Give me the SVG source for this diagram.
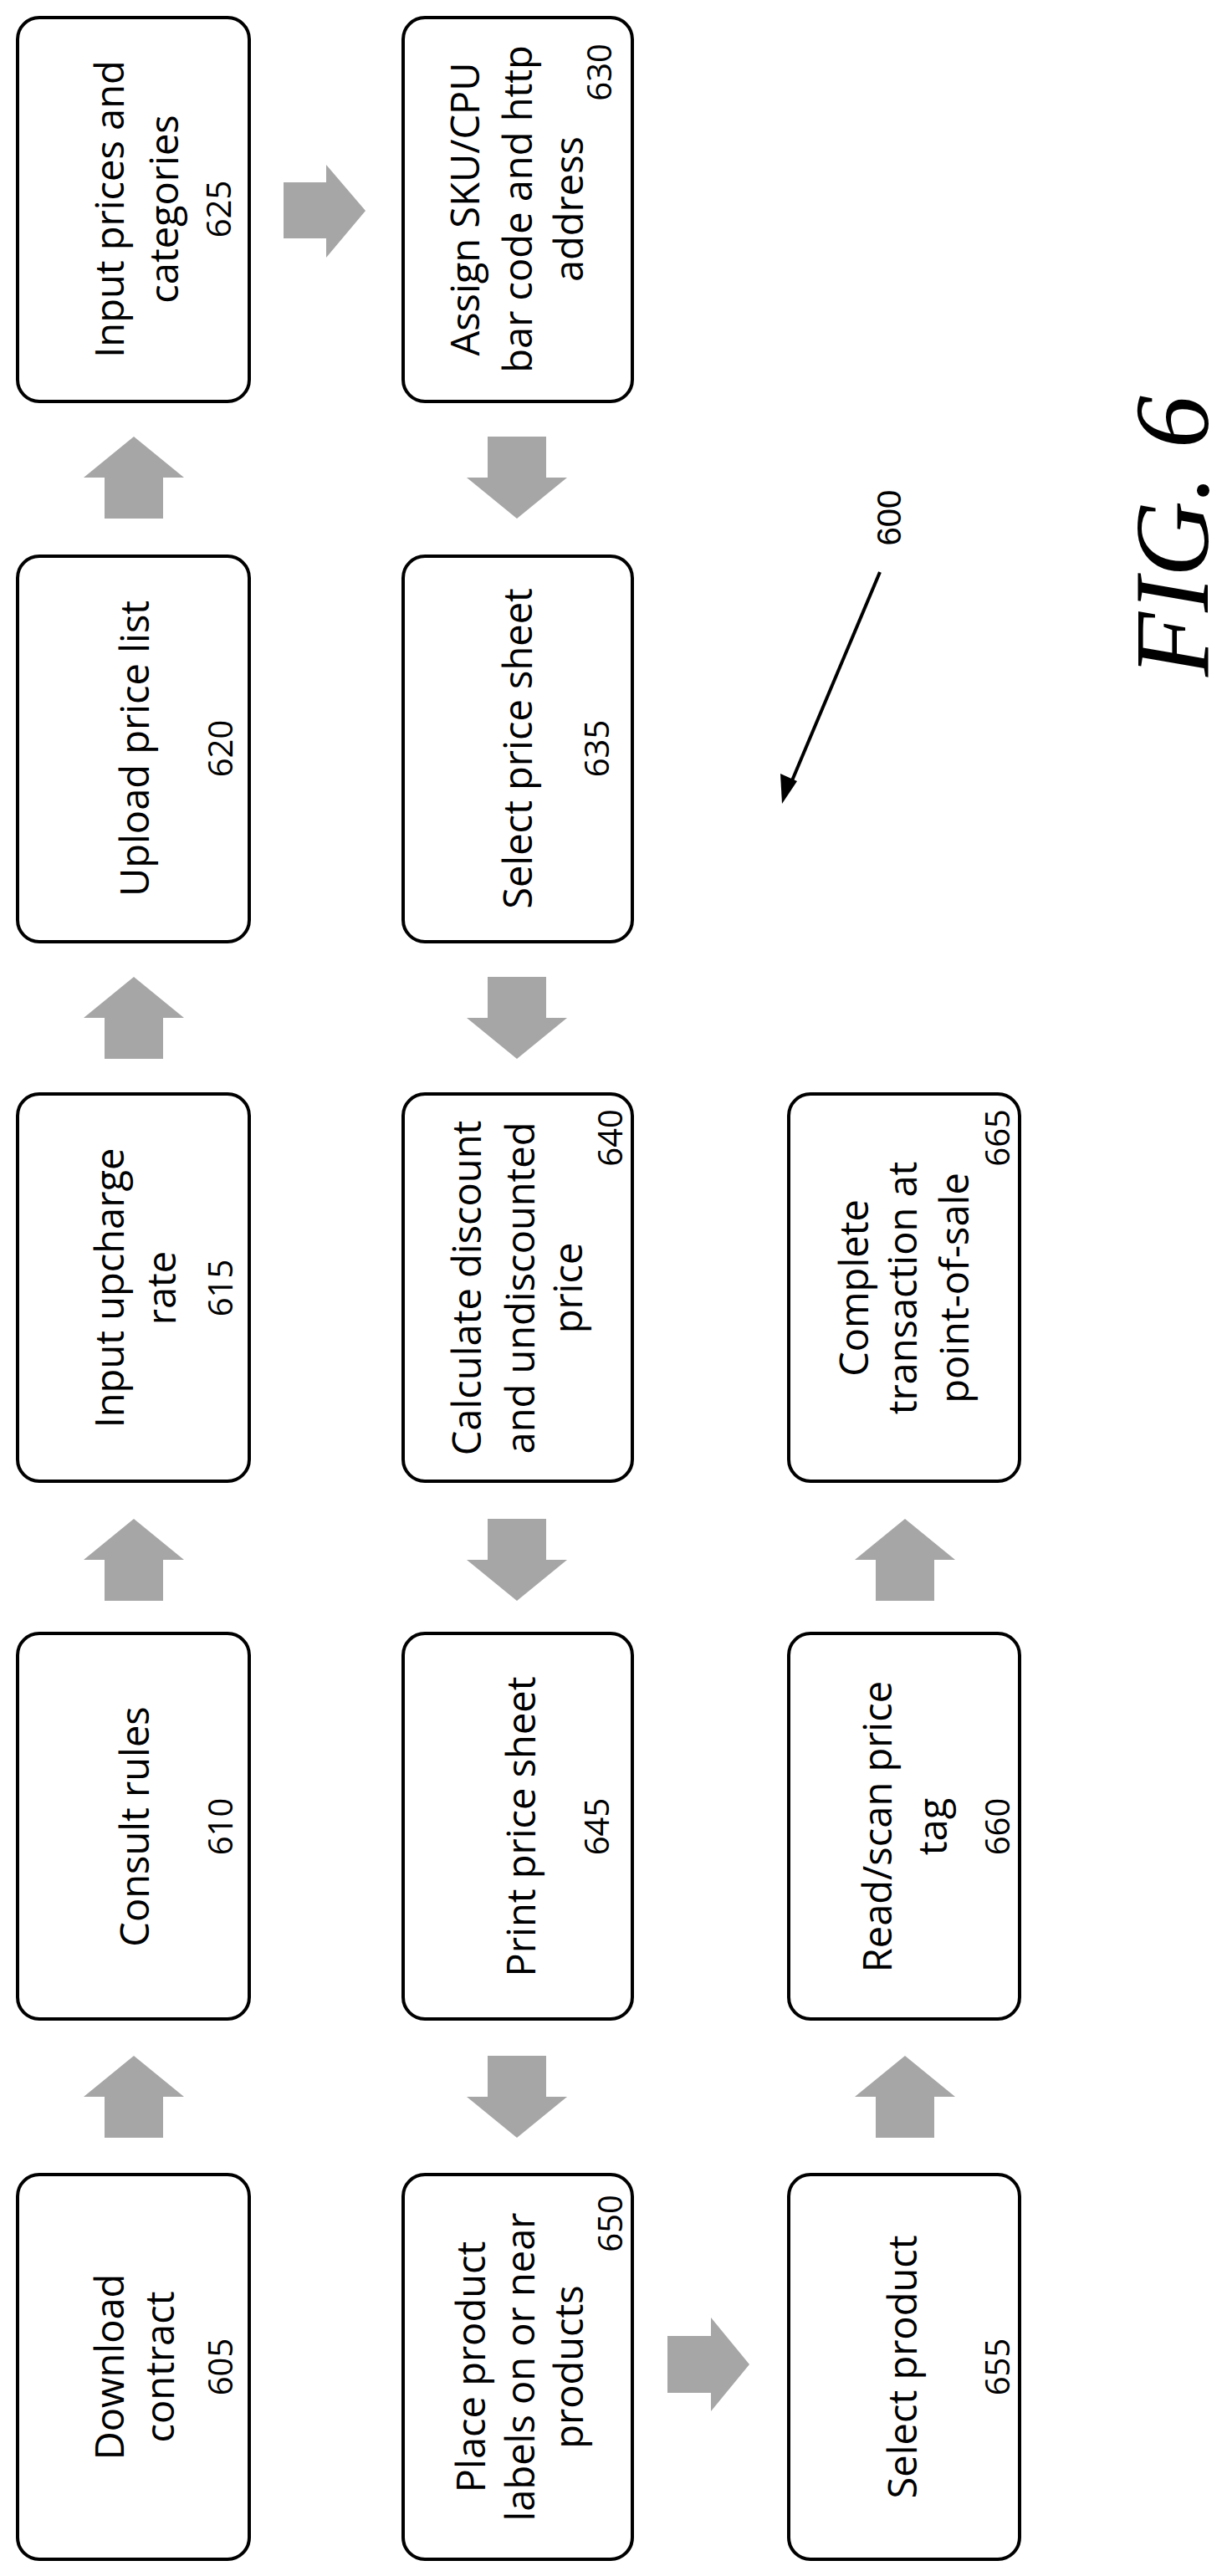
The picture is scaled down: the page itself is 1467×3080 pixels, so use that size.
<svg xmlns="http://www.w3.org/2000/svg" width="1467" height="3080" viewBox="0 0 1467 3080">
<style>
.box{fill:#fff;stroke:#000;stroke-width:4}
.t{font-family:"Open Sans",sans-serif;font-size:47px;fill:#000;text-anchor:middle}
.n{font-family:"Open Sans",sans-serif;font-size:40px;fill:#000;text-anchor:middle}
.ne{font-family:"Open Sans",sans-serif;font-size:40px;fill:#000;text-anchor:end}
.ar{fill:#a6a6a6}
</style>
<rect width="1467" height="3080" fill="#fff"/>
<g id="connectors">
<polygon class="ar" points="160,1816 220,1865 195,1865 195,1914 125,1914 125,1865 100,1865"/>
<polygon class="ar" points="160,2458 220,2507 195,2507 195,2556 125,2556 125,2507 100,2507"/>
<polygon class="ar" points="160,1168 220,1217 195,1217 195,1266 125,1266 125,1217 100,1217"/>
<polygon class="ar" points="160,522 220,571 195,571 195,620 125,620 125,571 100,571"/>
<polygon class="ar" points="339,218 390,218 390,197 437,252 390,308 390,285 339,285"/>
<polygon class="ar" points="618,620 678,571 653,571 653,522 583,522 583,571 558,571"/>
<polygon class="ar" points="618,1266 678,1217 653,1217 653,1168 583,1168 583,1217 558,1217"/>
<polygon class="ar" points="618,1914 678,1865 653,1865 653,1816 583,1816 583,1865 558,1865"/>
<polygon class="ar" points="618,2556 678,2507 653,2507 653,2458 583,2458 583,2507 558,2507"/>
<polygon class="ar" points="798,2793 850,2793 850,2771 896,2827 850,2883 850,2861 798,2861"/>
<polygon class="ar" points="1082,2458 1142,2507 1117,2507 1117,2556 1047,2556 1047,2507 1022,2507"/>
<polygon class="ar" points="1082,1816 1142,1865 1117,1865 1117,1914 1047,1914 1047,1865 1022,1865"/>
<line x1="1052" y1="684" x2="945" y2="938" stroke="#000" stroke-width="4"/>
<polygon points="935,961 933,925 953,934" fill="#000"/>
</g>
<g id="n605"><rect class="box" x="21" y="2600" width="277" height="460" rx="26"/>
<text class="t" transform="translate(148,2830) rotate(-90)">Download</text>
<text class="t" transform="translate(208,2830) rotate(-90)">contract</text>
<text class="n" transform="translate(278,2830) rotate(-90)">605</text></g>
<g id="n610"><rect class="box" x="21" y="1953" width="277" height="461" rx="26"/>
<text class="t" transform="translate(178,2184) rotate(-90)">Consult rules</text>
<text class="n" transform="translate(278,2184) rotate(-90)">610</text></g>
<g id="n615"><rect class="box" x="21" y="1308" width="277" height="463" rx="26"/>
<text class="t" transform="translate(148,1540) rotate(-90)">Input upcharge</text>
<text class="t" transform="translate(210,1540) rotate(-90)">rate</text>
<text class="n" transform="translate(278,1540) rotate(-90)">615</text></g>
<g id="n620"><rect class="box" x="21" y="665" width="277" height="461" rx="26"/>
<text class="t" transform="translate(178,895) rotate(-90)">Upload price list</text>
<text class="n" transform="translate(278,895) rotate(-90)">620</text></g>
<g id="n625"><rect class="box" x="21" y="21" width="277" height="459" rx="26"/>
<text class="t" transform="translate(148,250) rotate(-90)">Input prices and</text>
<text class="t" transform="translate(213,250) rotate(-90)">categories</text>
<text class="n" transform="translate(276,250) rotate(-90)">625</text></g>
<g id="n630"><rect class="box" x="482" y="21" width="274" height="459" rx="26"/>
<text class="t" transform="translate(573,250) rotate(-90)">Assign SKU/CPU</text>
<text class="t" transform="translate(636,250) rotate(-90)">bar code and http</text>
<text class="t" transform="translate(697,250) rotate(-90)">address</text>
<text class="ne" transform="translate(731,52) rotate(-90)">630</text></g>
<g id="n635"><rect class="box" x="482" y="665" width="274" height="461" rx="26"/>
<text class="t" transform="translate(636,895) rotate(-90)">Select price sheet</text>
<text class="n" transform="translate(728,895) rotate(-90)">635</text></g>
<g id="n640"><rect class="box" x="482" y="1308" width="274" height="463" rx="26"/>
<text class="t" transform="translate(575,1540) rotate(-90)">Calculate discount</text>
<text class="t" transform="translate(639,1540) rotate(-90)">and undiscounted</text>
<text class="t" transform="translate(696,1540) rotate(-90)">price</text>
<text class="ne" transform="translate(744,1326) rotate(-90)">640</text></g>
<g id="n645"><rect class="box" x="482" y="1953" width="274" height="461" rx="26"/>
<text class="t" transform="translate(640,2184) rotate(-90)">Print price sheet</text>
<text class="n" transform="translate(728,2184) rotate(-90)">645</text></g>
<g id="n650"><rect class="box" x="482" y="2600" width="274" height="460" rx="26"/>
<text class="t" transform="translate(580,2830) rotate(-90)">Place product</text>
<text class="t" transform="translate(639,2830) rotate(-90)">labels on or near</text>
<text class="t" transform="translate(697,2830) rotate(-90)">products</text>
<text class="ne" transform="translate(744,2624) rotate(-90)">650</text></g>
<g id="n655"><rect class="box" x="943" y="2600" width="276" height="460" rx="26"/>
<text class="t" transform="translate(1096,2830) rotate(-90)">Select product</text>
<text class="n" transform="translate(1207,2830) rotate(-90)">655</text></g>
<g id="n660"><rect class="box" x="943" y="1953" width="276" height="461" rx="26"/>
<text class="t" transform="translate(1066,2184) rotate(-90)">Read/scan price</text>
<text class="t" transform="translate(1132,2184) rotate(-90)">tag</text>
<text class="n" transform="translate(1207,2184) rotate(-90)">660</text></g>
<g id="n665"><rect class="box" x="943" y="1308" width="276" height="463" rx="26"/>
<text class="t" transform="translate(1038,1540) rotate(-90)">Complete</text>
<text class="t" transform="translate(1096,1540) rotate(-90)">transaction at</text>
<text class="t" transform="translate(1158,1540) rotate(-90)">point-of-sale</text>
<text class="ne" transform="translate(1207,1326) rotate(-90)">665</text></g>
<text transform="translate(1077,619) rotate(-90)" font-family="Liberation Sans,sans-serif" font-size="40" text-anchor="middle">600</text>
<text transform="translate(1444,641) rotate(-90)" font-family="Liberation Serif,serif" font-style="italic" font-size="126" text-anchor="middle">FIG. 6</text>
</svg>
